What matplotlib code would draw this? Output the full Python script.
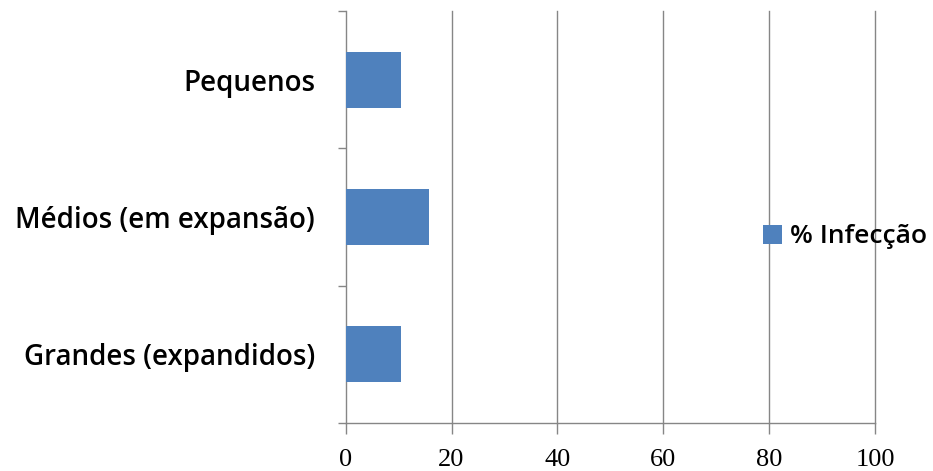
import matplotlib
matplotlib.use("Agg")
import matplotlib.pyplot as plt
import numpy as np

# Infection rate by size class
categories = ["Pequenos", "Médios (em expansão)", "Grandes (expandidos)"]
infection_pct = [10.5, 15.7, 10.5]
series_name = "% Infecção"
x_ticks = [0, 20, 40, 60, 80, 100]

bar_color = "#4F81BD"
axis_gray = "#868686"
label_font = {"family": "Open Sans", "weight": "semibold", "size": 20}
legend_font = {"family": "Open Sans", "weight": "semibold", "size": 19}

fig = plt.figure(figsize=(9.33, 4.71), dpi=100)
ax = fig.add_axes([0.3705, 0.1019, 0.5673, 0.8747])

pos = np.arange(len(categories))
ax.barh(pos, infection_pct, height=0.41, color=bar_color, label=series_name, zorder=3)

ax.set_xlim(0, 100)
ax.set_ylim(len(categories) - 0.5, -0.5)

# x axis: gridlines at each major tick, ticks pointing down
ax.set_xticks(x_ticks)
ax.set_xticklabels([str(t) for t in x_ticks], fontfamily="Liberation Serif", fontsize=19)
ax.tick_params(axis="x", direction="out", length=8, width=1, color=axis_gray, pad=11)
for t in x_ticks[1:]:
    ax.axvline(t, color=axis_gray, linewidth=1, zorder=0, clip_on=False)

# y axis: tick marks at category boundaries, labels centred on bars
ax.set_yticks(np.arange(-0.5, len(categories), 1.0))
ax.set_yticklabels([])
ax.tick_params(axis="y", which="major", direction="out", length=6, width=1, color=axis_gray)
ax.set_yticks(pos, minor=True)
ax.set_yticklabels(categories, minor=True, fontdict=label_font)
ax.tick_params(axis="y", which="minor", length=0, pad=22)

for side in ("top", "right"):
    ax.spines[side].set_visible(False)
for side in ("left", "bottom"):
    ax.spines[side].set_color(axis_gray)
    ax.spines[side].set_linewidth(1)

ax.legend(loc="center left", bbox_to_anchor=(0.8174, 0.497), bbox_transform=fig.transFigure,
          frameon=False, handlelength=0.72, handleheight=0.72, handletextpad=0.3,
          borderpad=0, borderaxespad=0, prop=legend_font)

fig.savefig("out.png", dpi=100, facecolor="white")
